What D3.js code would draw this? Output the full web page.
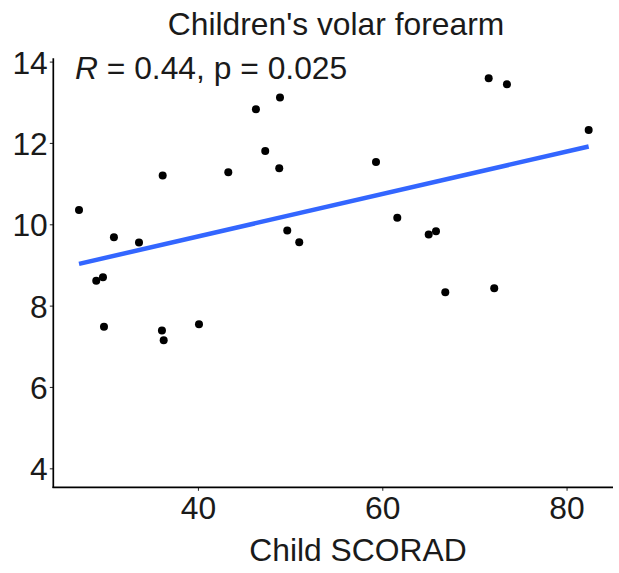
<!DOCTYPE html>
<html>
<head>
<meta charset="utf-8">
<script src="https://cdn.jsdelivr.net/npm/d3@7"></script>
<style>
  html, body { margin: 0; padding: 0; background: #fff; }
  svg text { font-family: "Liberation Sans", Arial, sans-serif; fill: #1a1a1a; }
</style>
</head>
<body>
<svg id="chart" width="619" height="573"></svg>
<script>
// Child SCORAD vs. measurement on the volar forearm
const scorad = [27.09, 28.96, 29.69, 29.80, 30.88, 33.60, 36.09, 36.28, 36.17, 40.11,
                43.29, 46.29, 47.30, 48.90, 48.82, 49.69, 50.99, 59.32, 61.63, 65.04,
                65.83, 66.84, 71.55, 72.15, 73.53, 82.40];
const forearm = [10.35, 8.61, 8.70, 7.48, 9.68, 9.55, 7.39, 7.15, 11.20, 7.54,
                 11.28, 12.83, 11.80, 13.12, 11.38, 9.85, 9.56, 11.53, 10.16, 9.75,
                 9.83, 8.33, 13.59, 8.43, 13.44, 12.32];
const xTicks = [40, 60, 80];
const yTicks = [4, 6, 8, 10, 12, 14];
const title = "Children's volar forearm";
const xTitle = "Child SCORAD";
const statR = "0.44";
const statP = "0.025";

const fontSize = 31.8;
const svg = d3.select("#chart");
const pLeft = 53.3, pRight = 613, pTop = 58.3, pBottom = 487.3;

const x = d3.scaleLinear().domain([24.30, 85.04]).range([pLeft, pRight]);
const y = d3.scaleLinear().domain([3.533, 14.081]).range([pBottom, pTop]);

// least-squares fit for the trend line
const n = scorad.length;
const mx = d3.mean(scorad), my = d3.mean(forearm);
let sxy = 0, sxx = 0;
for (let i = 0; i < n; i++) {
  sxy += (scorad[i] - mx) * (forearm[i] - my);
  sxx += (scorad[i] - mx) ** 2;
}
const slope = sxy / sxx, intercept = my - slope * mx;
const xExt = d3.extent(scorad);

// axes
const xAxis = svg.append("g").attr("transform", `translate(0,${pBottom})`)
  .call(d3.axisBottom(x).tickValues(xTicks).tickSize(3.5).tickPadding(6).tickFormat(d3.format("d")));
const yAxis = svg.append("g").attr("transform", `translate(${pLeft},0)`)
  .call(d3.axisLeft(y).tickValues(yTicks).tickSize(3.5).tickPadding(2).tickFormat(d3.format("d")));

[xAxis, yAxis].forEach(g => {
  g.select(".domain").remove();
  g.selectAll(".tick line").attr("stroke", "#333").attr("stroke-width", 1.1);
  g.selectAll(".tick text").attr("font-size", fontSize).attr("fill", "#1a1a1a")
    .style("font-family", "'Liberation Sans', Arial, sans-serif");
});
yAxis.selectAll(".tick text").attr("dy", "0.36em");

svg.append("line").attr("x1", pLeft).attr("x2", pLeft).attr("y1", pTop).attr("y2", pBottom + 0.8)
  .attr("stroke", "#000").attr("stroke-width", 1.7);
svg.append("line").attr("x1", pLeft - 0.8).attr("x2", pRight).attr("y1", pBottom).attr("y2", pBottom)
  .attr("stroke", "#000").attr("stroke-width", 1.7);

// trend line
svg.append("line")
  .attr("x1", x(xExt[0])).attr("y1", y(intercept + slope * xExt[0]))
  .attr("x2", x(xExt[1])).attr("y2", y(intercept + slope * xExt[1]))
  .attr("stroke", "#3366FF").attr("stroke-width", 4.5);

// points
svg.append("g").selectAll("circle")
  .data(d3.range(n))
  .join("circle")
  .attr("cx", i => x(scorad[i]))
  .attr("cy", i => y(forearm[i]))
  .attr("r", 4)
  .attr("fill", "#000");

// correlation label
const stat = svg.append("text").attr("x", x(26.65)).attr("y", 79.3).attr("font-size", fontSize);
stat.append("tspan").attr("font-style", "italic").text("R");
stat.append("tspan").text(` = ${statR}, p = ${statP}`);

// titles
svg.append("text").attr("x", 336).attr("y", 35).attr("text-anchor", "middle")
  .attr("font-size", fontSize).text(title);
svg.append("text").attr("x", 358).attr("y", 561).attr("text-anchor", "middle")
  .attr("font-size", fontSize).text(xTitle);
</script>
</body>
</html>
